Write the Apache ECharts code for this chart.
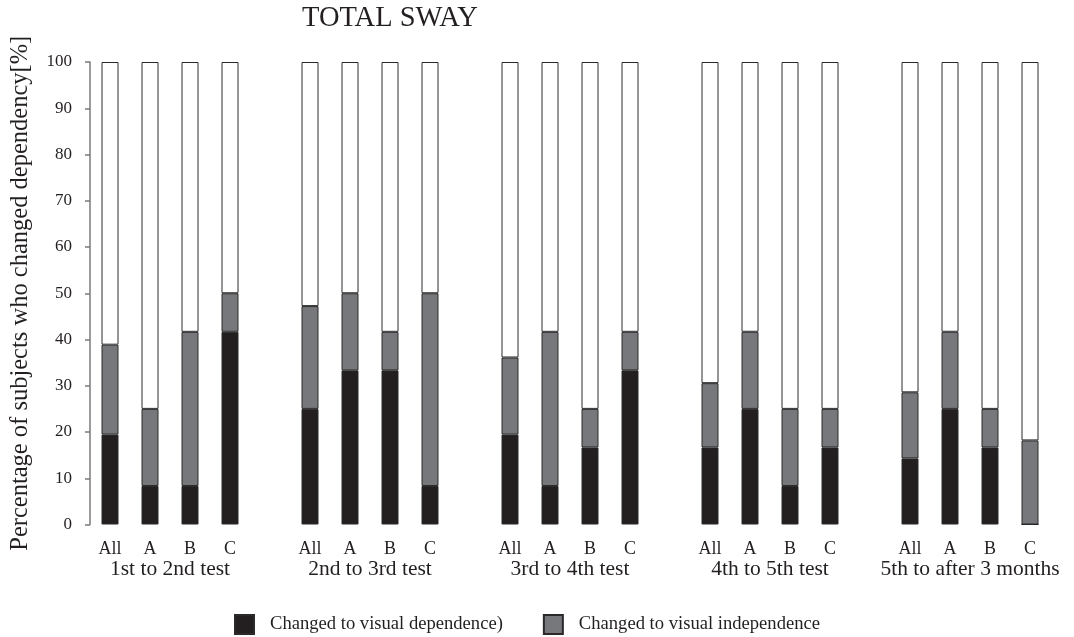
<!DOCTYPE html>
<html>
<head>
<meta charset="utf-8">
<script src="https://cdn.jsdelivr.net/npm/echarts@6/dist/echarts.min.js"></script>
<style>
html,body{margin:0;padding:0;background:#fff;}
#c{width:1074px;height:637px;}
</style>
</head>
<body>
<div id="c"></div>
<script>
var groups = ['1st to 2nd test', '2nd to 3rd test', '3rd to 4th test', '4th to 5th test', '5th to after 3 months'];
var subgroups = ['All', 'A', 'B', 'C'];
var dependence = [19.44, 8.33, 8.33, 41.67, 25.00, 33.33, 33.33, 8.33, 19.44, 8.33, 16.67, 33.33, 16.67, 25.00, 8.33, 16.67, 14.29, 25.00, 16.67, 0];
var independence = [19.44, 16.67, 33.33, 8.33, 22.22, 16.67, 8.33, 41.67, 16.67, 33.33, 8.33, 8.33, 13.89, 16.67, 16.67, 8.33, 14.29, 16.67, 8.33, 18.18];
var yTicks = [0, 10, 20, 30, 40, 50, 60, 70, 80, 90, 100];

var FONT = '"Liberation Serif", "DejaVu Serif", serif';
var INK = '#231f20';

// build slot categories (blank slot between groups)
var categories = [], depData = [], indData = [], restData = [], groupCenters = [];
var k = 0;
groups.forEach(function (g, gi) {
  groupCenters.push(categories.length + 2); // value-axis coordinate of group center
  subgroups.forEach(function (s) {
    categories.push(s);
    depData.push(dependence[k]);
    indData.push(independence[k]);
    restData.push(+(100 - dependence[k] - independence[k]).toFixed(2));
    k++;
  });
  if (gi < groups.length - 1) {
    categories.push('');
    depData.push('-'); indData.push('-'); restData.push('-');
  }
});

var chart = echarts.init(document.getElementById('c'), null, {renderer: 'canvas'});
var barBorder = {borderColor: '#2a2a2a', borderWidth: 1};
chart.setOption({
  animation: false,
  backgroundColor: '#fff',
  title: {
    text: 'TOTAL SWAY', left: 302, top: 4, padding: 0,
    textStyle: {fontFamily: FONT, fontSize: 28.5, fontWeight: 'normal', color: INK}
  },
  legend: {
    left: 234, top: 614, padding: 0,
    itemWidth: 19, itemHeight: 19, itemGap: 40,
    icon: 'rect',
    data: ['Changed to visual dependence)', 'Changed to visual independence'],
    textStyle: {fontFamily: FONT, fontSize: 18.6, color: INK, padding: [0, 0, 0, 11]}
  },
  grid: {left: 90, right: 24, top: 62, bottom: 112.5, containLabel: false},
  xAxis: [{
    type: 'category', data: categories,
    axisLine: {show: false}, axisTick: {show: false},
    axisLabel: {interval: 0, margin: 16, fontFamily: FONT, fontSize: 18, color: INK}
  }, {
    type: 'value', position: 'bottom', min: 0, max: categories.length,
    splitLine: {show: false}, axisLine: {show: false}, axisTick: {show: false},
    axisLabel: {
      customValues: groupCenters, margin: 34,
      fontFamily: FONT, fontSize: 21.5, color: INK,
      formatter: function (v) { return groups[groupCenters.indexOf(v)] || ''; }
    }
  }],
  yAxis: {
    type: 'value', min: 0, max: 100, interval: 10,
    name: 'Percentage of subjects who changed dependency[%]',
    nameLocation: 'middle', nameGap: 57,
    nameTextStyle: {fontFamily: FONT, fontSize: 24.5, color: INK},
    axisLine: {show: true, lineStyle: {color: '#7a7a7a', width: 1.5}},
    axisTick: {show: true, length: 5, lineStyle: {color: '#7a7a7a', width: 1.5}},
    splitLine: {show: false},
    axisLabel: {margin: 18, fontFamily: FONT, fontSize: 17, color: INK,
      customValues: yTicks}
  },
  series: [{
    name: 'Changed to visual dependence)', type: 'bar', stack: 's', barWidth: 17,
    xAxisIndex: 0, data: depData,
    itemStyle: Object.assign({color: '#231f20'}, barBorder)
  }, {
    name: 'Changed to visual independence', type: 'bar', stack: 's', barWidth: 17,
    xAxisIndex: 0, data: indData,
    itemStyle: Object.assign({color: '#77787b'}, barBorder)
  }, {
    name: 'rest', type: 'bar', stack: 's', barWidth: 17,
    xAxisIndex: 0, data: restData,
    itemStyle: Object.assign({color: '#ffffff'}, barBorder)
  }]
});
</script>
</body>
</html>
